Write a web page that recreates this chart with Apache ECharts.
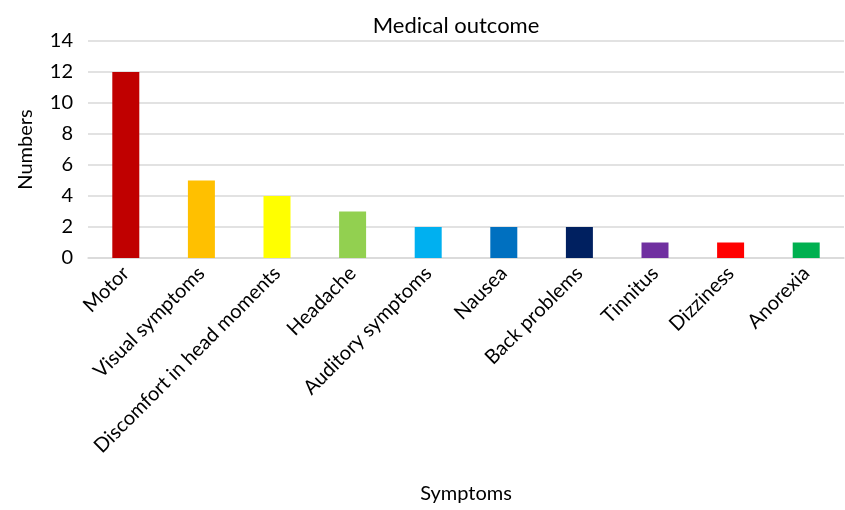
<!DOCTYPE html>
<html>
<head>
<meta charset="utf-8">
<script src="https://cdn.jsdelivr.net/npm/echarts@6/dist/echarts.min.js"></script>
<style>
  html, body { margin: 0; padding: 0; background: #fff; }
  #chart { width: 845px; height: 510px; }
</style>
</head>
<body>
<div id="chart"></div>
<script>
// Symptom categories and counts
const categories = ['Motor', 'Visual symptoms', 'Discomfort in head moments', 'Headache',
  'Auditory symptoms', 'Nausea', 'Back problems', 'Tinnitus', 'Dizziness', 'Anorexia'];
const counts = [12, 5, 4, 3, 2, 2, 2, 1, 1, 1];
const barColors = ['#C00000', '#FFC000', '#FFFF00', '#92D050', '#00B0F0',
  '#0070C0', '#002060', '#7030A0', '#FF0000', '#00B050'];
const yTicks = [0, 2, 4, 6, 8, 10, 12, 14];

const FONT = 'Lato, "Open Sans", sans-serif';
const chart = echarts.init(document.getElementById('chart'));

chart.setOption({
  animation: false,
  textStyle: { fontFamily: FONT, color: '#000' },
  title: {
    text: 'Medical outcome',
    left: 451,
    textAlign: 'center',
    top: 10,
    textStyle: { fontFamily: FONT, fontSize: 22, fontWeight: 'normal', color: '#000' }
  },
  grid: { left: 88, right: 1, top: 41, bottom: 252, containLabel: false },
  xAxis: {
    type: 'category',
    data: categories,
    name: 'Symptoms',
    nameLocation: 'middle',
    nameGap: 226,
    nameTextStyle: { fontFamily: FONT, fontSize: 20, color: '#000' },
    axisLine: { lineStyle: { color: '#D9D9D9', width: 1.5 } },
    axisTick: { show: false },
    axisLabel: { rotate: 45, margin: 12, fontSize: 20, color: '#000', fontFamily: FONT, interval: 0 }
  },
  yAxis: {
    type: 'value',
    min: yTicks[0],
    max: yTicks[yTicks.length - 1],
    interval: 2,
    name: 'Numbers',
    nameLocation: 'middle',
    nameGap: 52,
    nameTextStyle: { fontFamily: FONT, fontSize: 20, color: '#000' },
    axisLine: { show: false },
    axisTick: { show: false },
    axisLabel: { fontSize: 20, color: '#000', fontFamily: FONT, margin: 15 },
    splitLine: { lineStyle: { color: '#D9D9D9', width: 1.5 } }
  },
  series: [{
    type: 'bar',
    data: counts.map((v, i) => ({ value: v, itemStyle: { color: barColors[i] } })),
    barWidth: 27
  }]
});
</script>
</body>
</html>
